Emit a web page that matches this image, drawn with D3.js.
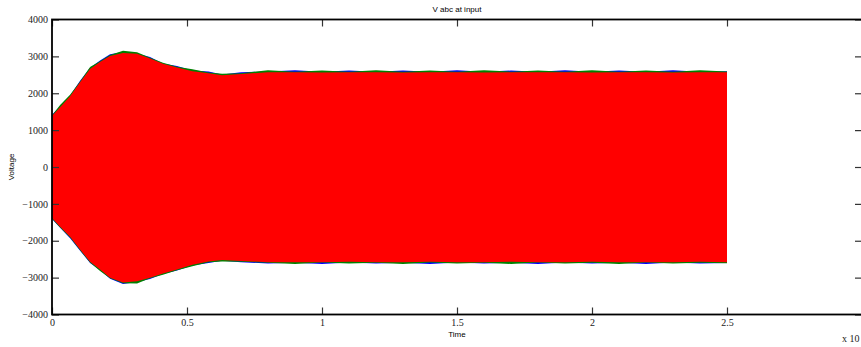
<!DOCTYPE html>
<html>
<head>
<meta charset="utf-8">
<script src="https://cdn.jsdelivr.net/npm/d3@7"></script>
<style>
  body { margin: 0; background: #fff; }
  svg { display: block; }
  .tick text { font-family: "Liberation Serif", "Times New Roman", serif; font-size: 10px; fill: #222; }
  .lbl { font-family: "Liberation Sans", Arial, sans-serif; font-size: 8px; fill: #000; }
</style>
</head>
<body>
<svg id="chart" width="861" height="347"></svg>
<script>
// envelope of the three phase voltages
var tEnv = [0, 0.03, 0.067, 0.104, 0.141, 0.178, 0.215, 0.263, 0.315, 0.363, 0.411, 0.463, 0.52, 0.58, 0.63, 0.7,
  0.8, 0.9, 1.0, 1.1, 1.2, 1.3, 1.4, 1.5, 1.6, 1.7, 1.8, 1.9, 2.0, 2.1, 2.2, 2.3, 2.4, 2.5];

var redUp = [1380, 1620, 1920, 2300, 2660, 2850, 3010, 3090, 3070, 2940, 2800, 2700, 2600, 2540, 2490, 2520,
  2570, 2570, 2560, 2570, 2570, 2560, 2570, 2570, 2560, 2570, 2570, 2570, 2560, 2570, 2570, 2560, 2570, 2570];
var blueUp = [1420, 1650, 1940, 2340, 2690, 2890, 3060, 3120, 3080, 2980, 2810, 2740, 2620, 2590, 2510, 2570,
  2590, 2625, 2580, 2620, 2585, 2615, 2580, 2625, 2585, 2615, 2580, 2625, 2585, 2615, 2580, 2625, 2585, 2600];
var greenUp = [1400, 1680, 1960, 2320, 2710, 2870, 3040, 3150, 3110, 2960, 2830, 2720, 2650, 2560, 2530, 2540,
  2625, 2585, 2620, 2580, 2625, 2585, 2620, 2580, 2625, 2585, 2620, 2580, 2625, 2585, 2620, 2580, 2625, 2590];

var redLo = [-1380, -1620, -1890, -2240, -2570, -2780, -3000, -3130, -3100, -3000, -2890, -2780, -2650, -2560, -2520, -2550,
  -2580, -2580, -2580, -2570, -2580, -2580, -2570, -2580, -2580, -2570, -2580, -2580, -2570, -2580, -2580, -2580, -2570, -2580];
var blueLo = [-1410, -1650, -1930, -2270, -2600, -2800, -3030, -3170, -3120, -3040, -2900, -2810, -2670, -2600, -2540, -2580,
  -2620, -2595, -2630, -2590, -2620, -2595, -2630, -2590, -2620, -2595, -2630, -2590, -2620, -2595, -2630, -2590, -2620, -2600];
var greenLo = [-1400, -1640, -1910, -2260, -2590, -2820, -3020, -3150, -3160, -3020, -2920, -2800, -2690, -2580, -2560, -2570,
  -2595, -2630, -2590, -2620, -2595, -2630, -2590, -2620, -2595, -2630, -2590, -2620, -2595, -2630, -2590, -2620, -2595, -2610];

var xTicks = [0, 0.5, 1, 1.5, 2, 2.5];
var yTicks = [-4000, -3000, -2000, -1000, 0, 1000, 2000, 3000, 4000];

var phases = [
  { color: "#0000ff", up: blueUp, lo: blueLo },
  { color: "#008000", up: greenUp, lo: greenLo },
  { color: "#ff0000", up: redUp, lo: redLo }
];

var svg = d3.select("#chart");
var mLeft = 52, mRight = 862, mTop = 19.5, mBottom = 314.5;

var x = d3.scaleLinear().domain([0, 3]).range([mLeft, mRight]);
var y = d3.scaleLinear().domain([-4000, 4000]).range([mBottom, mTop]);

// waveform envelopes
phases.forEach(function (p) {
  var area = d3.area()
    .x(function (d, i) { return x(tEnv[i]); })
    .y0(function (d, i) { return y(p.lo[i]); })
    .y1(function (d, i) { return y(p.up[i]); });
  svg.append("path")
    .datum(tEnv)
    .attr("fill", p.color)
    .attr("d", area);
});

// axes, ticks pointing inwards on all four sides
var tl = 7;
svg.append("g").attr("transform", "translate(" + mLeft + ",0)")
  .call(d3.axisLeft(y).tickValues(yTicks).tickSizeInner(-tl).tickSizeOuter(0).tickPadding(4).tickFormat(d3.format("d")));
svg.append("g").attr("transform", "translate(" + mRight + ",0)")
  .call(d3.axisRight(y).tickValues(yTicks).tickSizeInner(-tl).tickSizeOuter(0).tickFormat(""));
svg.append("g").attr("transform", "translate(0," + mBottom + ")")
  .call(d3.axisBottom(x).tickValues(xTicks).tickSizeInner(-tl).tickSizeOuter(0).tickPadding(4).tickFormat(d3.format("")));
svg.append("g").attr("transform", "translate(0," + mTop + ")")
  .call(d3.axisTop(x).tickValues(xTicks).tickSizeInner(-tl).tickSizeOuter(0).tickFormat(""));

svg.selectAll(".domain").remove();
svg.selectAll(".tick line").attr("stroke", "#333").attr("stroke-width", 1.2);

// frame
svg.append("rect")
  .attr("x", mLeft).attr("y", mTop)
  .attr("width", mRight - mLeft).attr("height", mBottom - mTop)
  .attr("fill", "none").attr("stroke", "#000").attr("stroke-width", 1.8);

// texts
svg.append("text").attr("class", "lbl")
  .attr("x", x(1.5)).attr("y", 12).attr("text-anchor", "middle")
  .text("V abc at input");
svg.append("text").attr("class", "lbl")
  .attr("x", x(1.5)).attr("y", 337).attr("text-anchor", "middle")
  .text("Time");
svg.append("text").attr("class", "lbl")
  .attr("transform", "translate(14," + y(0) + ") rotate(-90)")
  .attr("text-anchor", "middle")
  .text("Voltage");
svg.append("text")
  .attr("x", 842).attr("y", 342)
  .style("font-family", "'Liberation Serif', serif").style("font-size", "10px").attr("fill", "#222")
  .text("x 10");
</script>
</body>
</html>
